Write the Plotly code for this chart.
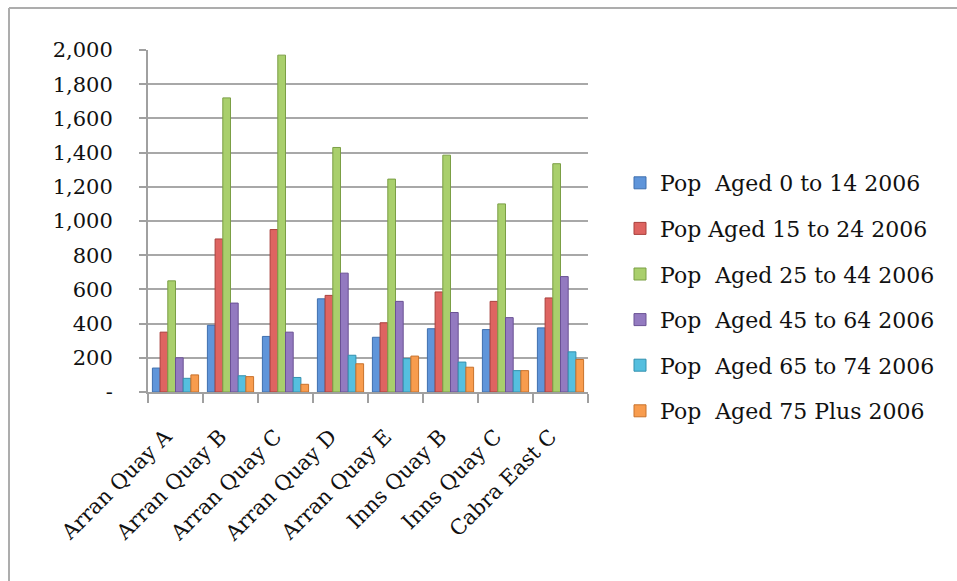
import plotly.graph_objects as go

# Small areas (electoral divisions) on the x axis
areas = ["Arran Quay A", "Arran Quay B", "Arran Quay C", "Arran Quay D",
         "Arran Quay E", "Inns Quay B", "Inns Quay C", "Cabra East C"]

# Population by age band, Census 2006
pop_0_14 = [140, 390, 325, 545, 320, 370, 365, 375]
pop_15_24 = [350, 895, 950, 565, 405, 585, 530, 550]
pop_25_44 = [650, 1720, 1970, 1430, 1245, 1385, 1100, 1335]
pop_45_64 = [200, 520, 350, 695, 530, 465, 435, 675]
pop_65_74 = [80, 95, 85, 215, 195, 175, 125, 235]
pop_75_plus = [100, 90, 45, 165, 210, 145, 125, 190]

series_names = ["Pop  Aged 0 to 14 2006", "Pop Aged 15 to 24 2006",
                "Pop  Aged 25 to 44 2006", "Pop  Aged 45 to 64 2006",
                "Pop  Aged 65 to 74 2006", "Pop  Aged 75 Plus 2006"]
series_values = [pop_0_14, pop_15_24, pop_25_44, pop_45_64, pop_65_74, pop_75_plus]

fill_colors = ["#5F95DA", "#DE6461", "#A9CF6C", "#937AC0", "#55BFDF", "#F89C4E"]
edge_colors = ["#3F6FAE", "#A9403D", "#7B9F45", "#6A5294", "#3290AE", "#C8722C"]

y_tick_vals = [0, 200, 400, 600, 800, 1000, 1200, 1400, 1600, 1800, 2000]
y_tick_text = ["-", "200", "400", "600", "800", "1,000", "1,200", "1,400",
               "1,600", "1,800", "2,000"]

FONT = "DejaVu Serif"

fig = go.Figure()
for i, (name, vals) in enumerate(zip(series_names, series_values)):
    fig.add_trace(go.Bar(
        x=areas, y=vals, name=name,
        legendgroup=f"g{i}",
        marker=dict(color=fill_colors[i], line=dict(color=edge_colors[i], width=1)),
    ))

W, H = 957, 581
L, R, T, B = 148, 369, 50, 189
pw = W - L - R
ph = H - T - B

def px_x(x):
    return (x - L) / pw

def px_y(y):
    return (H - B - y) / ph

# Outer frame: left and top edges
frame = dict(color="#ADADAD", width=2)
shapes = [
    dict(type="line", xref="paper", yref="paper",
         x0=px_x(9), x1=px_x(9), y0=px_y(8), y1=px_y(H + 5), line=frame),
    dict(type="line", xref="paper", yref="paper",
         x0=px_x(9), x1=px_x(W + 5), y0=px_y(8), y1=px_y(8), line=frame),
]

fig.update_layout(
    width=W, height=H,
    margin=dict(l=L, r=R, t=T, b=B, pad=0),
    paper_bgcolor="white", plot_bgcolor="white",
    barmode="group", bargap=0.16, bargroupgap=0,
    font=dict(family=FONT, size=21, color="#111111"),
    showlegend=True,
    legend=dict(
        x=px_x(620), y=px_y(162), xanchor="left", yanchor="top",
        font=dict(family=FONT, size=22, color="#111111"),
        tracegroupgap=14, itemwidth=30, bgcolor="rgba(0,0,0,0)",
    ),
    shapes=shapes,
)

fig.update_xaxes(
    tickangle=-45, tickson="boundaries", ticks="outside", ticklen=9,
    tickcolor="#A0A0A0", tickwidth=2,
    showline=True, linecolor="#A0A0A0", linewidth=2,
    showgrid=False, tickfont=dict(family=FONT, size=21),
    ticklabelstandoff=22, ticklabelshift=-10,
)
fig.update_yaxes(
    range=[0, 2000], tickvals=y_tick_vals, ticktext=y_tick_text,
    ticks="outside", ticklen=7, tickcolor="#A0A0A0", tickwidth=2,
    showline=True, linecolor="#A0A0A0", linewidth=2,
    showgrid=True, gridcolor="#A8A8A8", gridwidth=2,
    zeroline=False, ticklabelstandoff=22,
    tickfont=dict(family=FONT, size=21),
)

fig.write_html("out.html")
